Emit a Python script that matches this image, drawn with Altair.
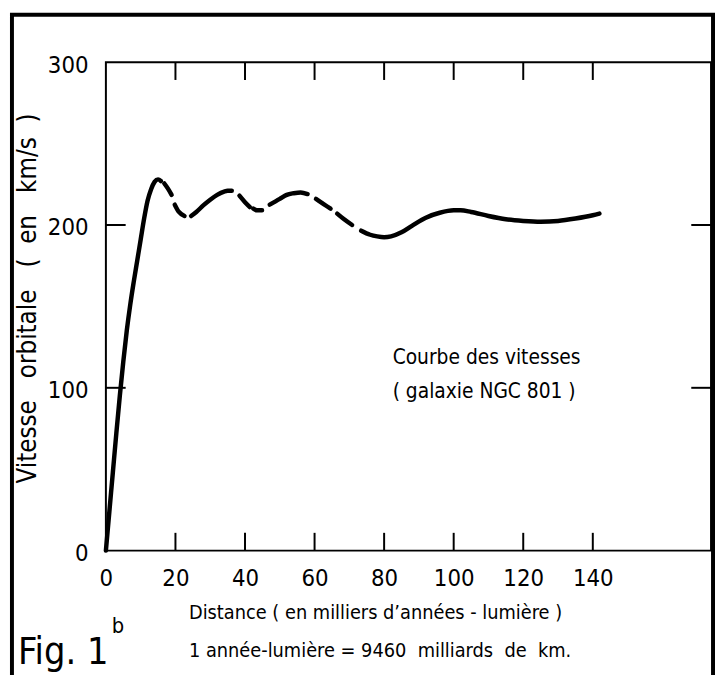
import altair as alt
import pandas as pd

# ---- data ----
pieces = {
    "A": ([0, 1, 2, 3, 4, 5, 6, 7, 8, 9, 10, 11, 12, 13, 14, 15, 15.8],
          [0, 24, 48, 72, 95, 116, 135, 151, 165, 178, 191, 204, 215, 222, 226.5, 228, 227]),
    "B": ([16.8, 17.8, 18.9], [225.5, 222.5, 218.5]),
    "C": ([19.8, 21, 22.6], [212.5, 208, 205.5]),
    "D": ([24.5, 26, 28, 30, 32, 34, 35, 36.2], [205.5, 208, 212, 215.5, 218.5, 220.5, 221, 221]),
    "E": ([38.4, 40, 41.4], [218, 214, 211]),
    "F": ([42.4, 43.5, 44.9], [210, 209, 209]),
    "G": ([47.1, 50, 52, 54, 56, 58], [212.5, 216, 218.5, 219.5, 220, 219]),
    "H": ([60.4, 62.5, 64.6], [216, 213, 210]),
    "I": ([66.5, 68.5, 70.8], [207, 203.5, 200]),
    "J": ([73.4, 76, 78, 80, 82, 85, 88, 92, 96, 100, 102, 105, 110, 115, 120, 125, 130, 135, 140, 141.9],
          [196.5, 194, 193, 192.5, 193, 195.5, 199.5, 204.5, 207.5, 209, 209, 208, 205.5, 203.5,
           202.5, 202, 202.5, 204, 206, 207]),
}
x_ticks = [20, 40, 60, 80, 100, 120, 140]
x_labels = [0, 20, 40, 60, 80, 100, 120, 140]
y_ticks = [100, 200]
y_labels = [0, 100, 200, 300]

FONT = "'Liberation Sans Narrow', 'DejaVu Sans Condensed', 'Liberation Sans', 'DejaVu Sans', sans-serif"
W, H = 612, 494
X_DOMAIN = [0, 174]
Y_DOMAIN = [0, 300]

rows = []
for name, (xs, vs) in pieces.items():
    for i, (a, b) in enumerate(zip(xs, vs)):
        rows.append({"piece": name, "d": a, "v": b, "i": i})
curve_df = pd.DataFrame(rows)

xscale = alt.Scale(domain=X_DOMAIN, nice=False, zero=False)
yscale = alt.Scale(domain=Y_DOMAIN, nice=False)

x_axis = alt.Axis(values=x_labels, ticks=False, domain=False, grid=False, title=None,
                  labelFont=FONT, labelFontSize=24, labelPadding=16,
                  labelColor="black", labelFlush=False)
y_axis = alt.Axis(values=y_labels, ticks=False, domain=False, grid=False, title=None,
                  labelFont=FONT, labelFontSize=24, labelPadding=18,
                  labelColor="black", labelOffset=3, labelFlush=False)

def X():
    return alt.X("d:Q", scale=xscale, axis=x_axis)

def Y():
    return alt.Y("v:Q", scale=yscale, axis=y_axis)

curve = alt.Chart(curve_df).mark_line(
    color="black", strokeWidth=4.5, strokeCap="round", interpolate="monotone"
).encode(x=X(), y=Y(), detail="piece:N", order="i:Q")

xt_df = pd.DataFrame({"d": x_ticks})
yt_df = pd.DataFrame({"v": y_ticks})

bottom_ticks = alt.Chart(xt_df).mark_rule(color="black", strokeWidth=2).encode(
    x=X(), y=alt.value(H), y2=alt.value(H - 18))
top_ticks = alt.Chart(xt_df).mark_rule(color="black", strokeWidth=2).encode(
    x=X(), y=alt.value(0), y2=alt.value(18))
left_ticks = alt.Chart(yt_df).mark_rule(color="black", strokeWidth=2).encode(
    y=Y(), x=alt.value(0), x2=alt.value(20))
right_ticks = alt.Chart(yt_df).mark_rule(color="black", strokeWidth=2).encode(
    y=Y(), x=alt.value(W), x2=alt.value(W - 20))

one = alt.Data(values=[{"k": 1}])

def label(text, x, y, size=24, angle=0, align="left"):
    return alt.Chart(one).mark_text(
        text=text, font=FONT, fontSize=size, color="black", align=align,
        baseline="middle", angle=angle
    ).encode(x=alt.value(x), y=alt.value(y))

NB = "\u00a0"
S2 = NB * 2
S3 = NB * 3
texts = [
    label(f"Vitesse{S3}orbitale{S3}({S2}en{S3}km/s{S2})", -79, 239, size=26, angle=270, align="center"),
    label("Courbe des vitesses", 290, 299, size=21),
    label(f"({NB}galaxie NGC 801{NB})", 290, 334, size=21),
    label(f"Distance{NB}({NB}en{NB}milliers{NB}d\u2019années{NB}-{NB}lumière{NB})", 84, 557, size=20),
    label(f"1{NB}année-lumière{NB}={NB}9460{S2}milliards{S2}de{S2}km.", 84, 596, size=20),
    label("Fig.\u00a01", -89, 598, size=38),
    label("b", 6, 570, size=22),
]

frame = alt.Chart(one).mark_rect(fill=None, stroke="black", strokeWidth=4).encode(
    x=alt.value(-95), x2=alt.value(614), y=alt.value(-48), y2=alt.value(660))

chart = alt.layer(
    frame, bottom_ticks, top_ticks, left_ticks, right_ticks, curve, *texts
).properties(
    width=W, height=H,
    background="white",
    autosize=alt.AutoSizeParams(type="none"),
    padding={"left": 99, "top": 51, "right": 4, "bottom": 122},
).configure_view(stroke="black", strokeWidth=2)

chart.save("out.html", embed_options={"renderer": "svg", "actions": False})
